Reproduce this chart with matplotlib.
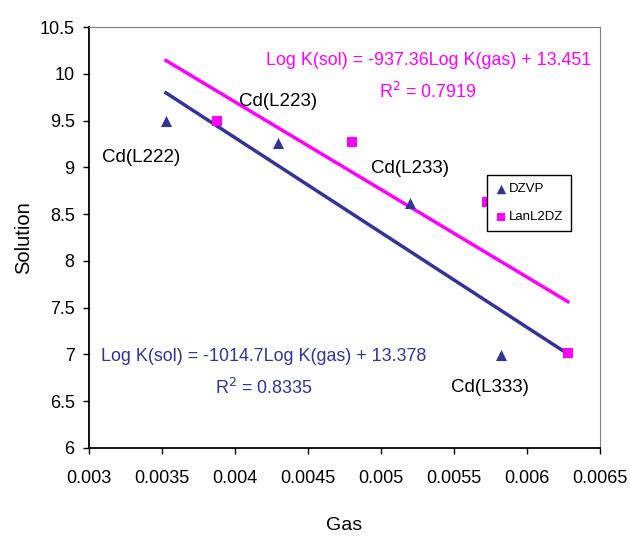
import numpy as np
import matplotlib
matplotlib.use('Agg')
import matplotlib.pyplot as plt

plt.rcParams['font.family'] = ['Liberation Sans', 'DejaVu Sans']

# DZVP (triangles)
dzvp_x = [0.00353, 0.00430, 0.00520, 0.00582]
dzvp_y = [9.50, 9.26, 8.62, 6.99]
# LanL2DZ (squares)
lan_x = [0.00388, 0.00480, 0.00573, 0.00628]
lan_y = [9.50, 9.27, 8.63, 7.02]

# trendline coefficients as printed on the chart
dzvp_fit = (-1014.7, 13.378)
lan_fit = (-937.36, 13.451)

labels = ['Cd(L222)', 'Cd(L223)', 'Cd(L233)', 'Cd(L333)']
label_pos = [(0.00336, 9.11), (0.00430, 9.70), (0.00520, 8.99), (0.00575, 6.65)]

navy = '#333399'
pink = '#FF00FF'

fig = plt.figure(figsize=[6.3, 5.36], dpi=100)
ax = fig.add_axes([0.1405, 0.1642, 0.8119, 0.7854])

# both trendlines span the full x range of the data
xs = np.array([min(dzvp_x + lan_x), max(dzvp_x + lan_x)])
ax.plot(xs, dzvp_fit[0] * xs + dzvp_fit[1], color=navy, lw=2.5, zorder=2)
ax.plot(xs, lan_fit[0] * xs + lan_fit[1], color=pink, lw=2.5, zorder=2)

ax.scatter(dzvp_x, dzvp_y, marker='^', s=64, color=navy, linewidths=0, label='DZVP', zorder=3)
ax.scatter(lan_x, lan_y, marker='s', s=52, color=pink, linewidths=0, label='LanL2DZ', zorder=4)

for t, (x, y) in zip(labels, label_pos):
    ax.text(x, y, t, fontsize=13.5, ha='center', va='center')

ax.text(0.005327, 10.137, 'Log K(sol) = -937.36Log K(gas) + 13.451', color=pink,
        fontsize=12.9, ha='center', va='center')
ax.text(0.005323, 9.805, 'R$^2$ = 0.7919', color=pink, fontsize=12.9, ha='center', va='center')
ax.text(0.004201, 6.973, 'Log K(sol) = -1014.7Log K(gas) + 13.378', color=navy,
        fontsize=12.9, ha='center', va='center')
ax.text(0.004201, 6.641, 'R$^2$ = 0.8335', color=navy, fontsize=12.9, ha='center', va='center')

ax.set_xlim(0.003, 0.0065)
ax.set_ylim(6, 10.5)
ax.set_xticks(np.arange(0.003, 0.00651, 0.0005))
ax.set_xticklabels(['0.003', '0.0035', '0.004', '0.0045', '0.005', '0.0055', '0.006', '0.0065'])
ax.set_yticks(np.arange(6, 10.51, 0.5))
ax.set_yticklabels(['6', '6.5', '7', '7.5', '8', '8.5', '9', '9.5', '10', '10.5'])
ax.tick_params(labelsize=13, length=4.5, width=1, pad=5.5)
ax.tick_params(axis='x', pad=11)

ax.spines['top'].set_color('#808080')
ax.spines['right'].set_color('#808080')
for s in ['left', 'bottom']:
    ax.spines[s].set_linewidth(1.3)

ax.set_xlabel('Gas', fontsize=14)
ax.set_ylabel('Solution', fontsize=14.5)
ax.xaxis.set_label_coords(0.5, -0.164)
ax.yaxis.set_label_coords(-0.108, 0.5)

leg = ax.legend(loc='upper left', bbox_to_anchor=(0.779, 0.648), borderaxespad=0,
                fontsize=9.5, frameon=True, fancybox=False, edgecolor='black',
                borderpad=0.6, handletextpad=0.05, handlelength=1.0,
                labelspacing=1.2, markerscale=0.85, framealpha=1)
leg.get_frame().set_linewidth(1.0)

plt.savefig('out.png', dpi=100)
